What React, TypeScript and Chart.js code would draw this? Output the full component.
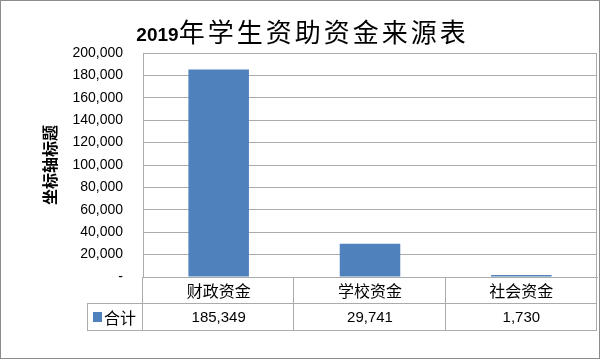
import React, { useEffect, useRef } from "react";
import { Chart, registerables } from "chart.js";

Chart.register(...registerables);

const titleNumber = "2019";
const titleText = "年学生资助资金来源表";
const yAxisTitle = "坐标轴标题";
const seriesName = "合计";
const categories = ["财政资金", "学校资金", "社会资金"];
const values = [185349, 29741, 1730];
const yMin = 0;
const yMax = 200000;
const yStep = 20000;

const BAR_COLOR = "#4F81BD";
const GRID_COLOR = "#ababab";
const CJK = "'Noto Sans CJK SC', sans-serif";
const LATIN = "'Liberation Sans', Arial, sans-serif";

const fmt = (v: number) => v.toLocaleString("en-US");

const tablePlugin = {
  id: "excelTable",
  afterDraw(chart: any) {
    const { ctx, chartArea, scales } = chart;
    const x = scales.x;
    const { left, right, top, bottom } = chartArea;
    const rowH1 = 26;
    const rowH2 = 27;
    const r1 = bottom + rowH1;
    const r2 = r1 + rowH2;
    const legendLeft = 87;
    ctx.save();
    ctx.strokeStyle = GRID_COLOR;
    ctx.lineWidth = 1;
    ctx.beginPath();
    // plot area right border
    ctx.moveTo(right - 0.5, top);
    ctx.lineTo(right - 0.5, bottom);
    // table horizontal lines
    ctx.moveTo(left, r1 + 0.5);
    ctx.lineTo(right, r1 + 0.5);
    ctx.moveTo(legendLeft, r1 + 0.5);
    ctx.lineTo(left, r1 + 0.5);
    ctx.moveTo(legendLeft, r2 + 0.5);
    ctx.lineTo(right, r2 + 0.5);
    // legend cell left
    ctx.moveTo(legendLeft + 0.5, r1);
    ctx.lineTo(legendLeft + 0.5, r2 + 1);
    // column boundaries
    const n = categories.length;
    const w = (right - left) / n;
    for (let i = 0; i <= n; i++) {
      const xx = Math.round(left + i * w) - 0.5;
      ctx.moveTo(xx, bottom);
      ctx.lineTo(xx, r2 + 1);
    }
    ctx.stroke();

    // values
    ctx.fillStyle = "#000";
    ctx.font = `15px ${LATIN}`;
    ctx.textAlign = "center";
    ctx.textBaseline = "middle";
    values.forEach((v, i) => {
      ctx.fillText(fmt(v), x.getPixelForValue(i), (r1 + r2) / 2 + 1);
    });
    // legend key
    ctx.fillStyle = BAR_COLOR;
    ctx.fillRect(93, 312, 9, 10);
    ctx.fillStyle = "#000";
    ctx.font = `16px ${CJK}`;
    ctx.textAlign = "left";
    ctx.fillText(seriesName, 104, (r1 + r2) / 2 + 1);

    // title
    ctx.textBaseline = "alphabetic";
    ctx.font = `bold 19px ${LATIN}`;
    const w1 = ctx.measureText(titleNumber).width;
    ctx.font = `26px ${CJK}`;
    (ctx as any).letterSpacing = "3px";
    const w2 = ctx.measureText(titleText).width - 3;
    const start = 301 - (w1 + w2) / 2;
    ctx.fillText(titleText, start + w1, 42);
    (ctx as any).letterSpacing = "0px";
    ctx.font = `bold 19px ${LATIN}`;
    ctx.fillText(titleNumber, start, 41);

    // outer border
    ctx.strokeStyle = "#8c8c8c";
    ctx.strokeRect(0.5, 0.5, chart.width - 1, chart.height - 1);
    ctx.restore();
  },
};

export default function App() {
  const ref = useRef<HTMLCanvasElement | null>(null);
  useEffect(() => {
    if (!ref.current) return;
    const chart = new Chart(ref.current, {
      type: "bar",
      data: {
        labels: categories,
        datasets: [
          {
            label: seriesName,
            data: values,
            backgroundColor: BAR_COLOR,
            borderWidth: 0,
            categoryPercentage: 1,
            barPercentage: 0.4,
          },
        ],
      },
      options: {
        responsive: false,
        animation: false,
        devicePixelRatio: 1,
        layout: { padding: { top: 53, right: 3, left: 0, bottom: 0 } },
        plugins: {
          legend: { display: false },
          tooltip: { enabled: false },
          title: { display: false },
        },
        scales: {
          x: {
            grid: { display: false, drawTicks: false },
            border: { display: true, color: GRID_COLOR },
            ticks: {
              color: "#000",
              font: { family: CJK, size: 16 },
              padding: 4,
              maxRotation: 0,
            },
            afterFit: (s: any) => {
              s.height = 82;
            },
          },
          y: {
            min: yMin,
            max: yMax,
            grid: { color: GRID_COLOR, drawTicks: false },
            border: { display: true, color: GRID_COLOR },
            ticks: {
              stepSize: yStep,
              color: "#000",
              font: { family: LATIN, size: 14 },
              padding: 20,
              callback: (v: any) => (Number(v) === 0 ? "-" : fmt(Number(v))),
            },
            title: {
              display: true,
              text: yAxisTitle,
              color: "#000",
              font: { family: CJK, size: 16, weight: "bold" },
              padding: { top: 40, bottom: 0 },
            },
            afterFit: (s: any) => {
              s.width = 143;
            },
          },
        },
      },
      plugins: [tablePlugin],
    });
    return () => chart.destroy();
  }, []);
  return (
    <div style={{ position: "absolute", left: 0, top: 0, width: 600, height: 359, background: "#fff" }}>
      <canvas ref={ref} width={600} height={359} style={{ display: "block", width: 600, height: 359 }} />
    </div>
  );
}
